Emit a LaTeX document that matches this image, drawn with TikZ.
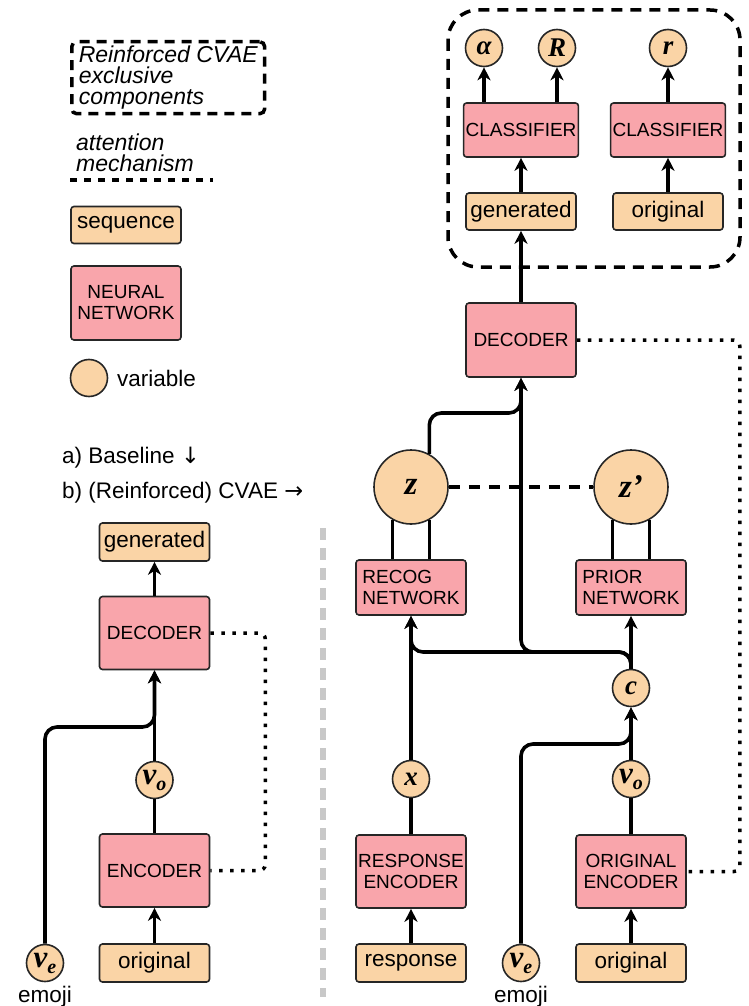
\documentclass[tikz,border=0pt]{standalone}
\usepackage{fontspec}
\setmainfont{Liberation Sans}
\newfontfamily\varfont{Liberation Serif}
\newfontfamily\arrowfont{DejaVu Sans}
\usetikzlibrary{positioning}
\usetikzlibrary{arrows.meta}
\definecolor{seqfill}{RGB}{250,212,166}
\definecolor{netfill}{RGB}{249,165,171}
\definecolor{sepgray}{RGB}{200,200,200}
\newcommand{\varsub}[2]{{\fontsize{31}{31}\selectfont #1}\raisebox{-0.22em}{\fontsize{20}{20}\selectfont #2}}

\begin{document}
\begin{tikzpicture}[x = 1pt, y = -1pt,
seq/.style = {shape = rectangle, rounded corners = 3pt, draw = black!85, fill = seqfill, line width = 1.6pt, minimum width = 110pt, minimum height = 37pt, inner sep = 1pt, font = \fontsize{22.5}{24}\selectfont},
net/.style = {shape = rectangle, rounded corners = 3pt, draw = black!85, fill = netfill, line width = 1.6pt, minimum width = 110pt, minimum height = 73pt, inner sep = 2pt, align = center, font = \fontsize{19}{21}\selectfont},
var/.style = {shape = circle, draw = black!85, fill = seqfill, line width = 1.6pt, minimum size = 37pt, inner sep = 0pt, font = \varfont\bfseries\itshape\fontsize{27}{27}\selectfont},
bigvar/.style = {var, minimum size = 74pt, font = \varfont\bfseries\itshape\fontsize{33}{33}\selectfont},
conn/.style = {line width = 3.6pt, -{Stealth[length = 13pt, width = 13pt, inset = 4pt]}},
wire/.style = {line width = 3.6pt},
attn/.style = {line width = 3.5pt, dash pattern = on 3.5pt off 7.5pt, rounded corners = 6pt},
attnleg/.style = {line width = 3.5pt, dash pattern = on 7pt off 7pt},
excl/.style = {line width = 3.5pt, dash pattern = on 11pt off 8pt},
txt/.style = {inner sep = 0pt, font = \fontsize{22.5}{22}\selectfont},
sep/.style = {line width = 6pt, draw = sepgray, dash pattern = on 12pt off 8pt}
]
\useasboundingbox (0, 0) rectangle (748, 1006);

\node[excl, draw, rounded corners = 5pt, dash pattern = on 10pt off 7pt, anchor = north west, align = left, inner xsep = 7pt, minimum height = 72pt, font = \itshape\fontsize{23}{21}\selectfont] (Excl) at (70, 40) {Reinforced CVAE\\exclusive\\components};
\node[txt, anchor = west, align = left, font = \itshape\fontsize{23}{21}\selectfont] (AttnTxt) at (76, 153) {attention\\mechanism};
\coordinate (L1) at (70, 180);
\coordinate (L2) at (213, 180);
\draw[attnleg] (L1) -- (L2);
\node[seq] (SeqLeg) at (126, 225) {sequence};
\node[net, minimum height = 74pt] (NetLeg) at (126, 303) {NEURAL\\NETWORK};
\node[var] (VarLeg) at (89, 378) {};
\node[txt, anchor = west] (VarTxt) at (117, 378) {variable};
\node[txt, anchor = west] (BaseTxt) at (62, 458) {a) Baseline {\arrowfont ↓}};
\node[txt, anchor = west] (CvaeTxt) at (62, 493) {b) (Reinforced) CVAE {\arrowfont →}};

\node[seq, minimum height = 38pt] (Gen) at (154.5, 542) {generated};
\node[net] (Dec) at (154.5, 633) {DECODER};
\node[var] (Vo) at (154.5, 780) {\varsub{v}{o}};
\node[net] (Enc) at (154.5, 870.5) {ENCODER};
\node[seq, minimum height = 38pt] (Orig) at (154.5, 963) {original};
\node[var, label = {[txt, label distance = 4pt]below:emoji}] (Ve) at (45, 963) {\varsub{v}{e}};
\coordinate (B1) at (154.5, 727);

\path[conn] (Orig) edge (Enc);
\path[wire] (Enc) edge (Vo);
\path[conn] (Vo) edge (Dec);
\draw[conn, rounded corners = 12pt] (Ve.north) |- (B1) -- (Dec.south);
\path[conn] (Dec) edge (Gen);
\draw[attn] (Dec.east) -- ++(55, 0) |- (Enc.east);

\coordinate (S1) at (323, 528);
\coordinate (S2) at (323, 997);
\draw[sep] (S1) -- (S2);

\draw[excl, rounded corners = 30pt] (448, 10) rectangle (740, 267);
\node[var] (Al) at (484, 48) {α};
\node[var] (Rv) at (557, 48) {R};
\node[var] (Rs) at (668, 48) {r};
\node[net, minimum height = 54pt] (ClsL) at (521, 130) {CLASSIFIER};
\node[net, minimum height = 54pt] (ClsR) at (668, 130) {CLASSIFIER};
\node[seq] (GenT) at (521, 211.5) {generated};
\node[seq] (OrigT) at (668, 211.5) {original};

\path[conn] (ClsL.north -| Al) edge (Al);
\path[conn] (ClsL.north -| Rv) edge (Rv);
\path[conn] (ClsR) edge (Rs);
\path[conn] (GenT) edge (ClsL);
\path[conn] (OrigT) edge (ClsR);

\node[net, minimum height = 74pt] (DecR) at (521, 340) {DECODER};
\node[bigvar] (Z) at (411, 487) {z};
\node[bigvar] (Zp) at (631, 487) {z’};
\node[net, minimum height = 55pt, align = left] (Recog) at (411, 587.5) {RECOG\\NETWORK};
\node[net, minimum height = 55pt, align = left] (Prior) at (631, 587.5) {PRIOR\\NETWORK};
\node[var] (C) at (631, 688) {c};
\node[var] (X) at (411, 779) {x};
\node[var] (VoR) at (631, 779) {\varsub{v}{o}};
\node[net] (REnc) at (411, 871.5) {RESPONSE\\ENCODER};
\node[net] (OEnc) at (631, 871.5) {ORIGINAL\\ENCODER};
\node[seq, minimum height = 38pt] (Resp) at (411, 963) {response};
\node[seq, minimum height = 38pt] (OrigR) at (631, 963) {original};
\node[var, label = {[txt, label distance = 4pt]below:emoji}] (VeR) at (521, 963) {\varsub{v}{e}};
\coordinate (J1) at (411, 652);
\coordinate (J2) at (521, 652);
\coordinate (K1) at (521, 413);
\coordinate (K2) at (631, 744);

\path[conn] (DecR) edge (GenT);
\draw[conn, rounded corners = 12pt] (Z.61) |- (K1) -- (DecR.south);
\draw[conn, rounded corners = 12pt] (C.north) |- (J2) -- (DecR.south);
\draw[conn, rounded corners = 12pt] (C.north) |- (J1) -- (Recog.south);
\path[conn] (C) edge (Prior);
\path[conn] (X) edge (Recog);
\draw[excl, dash pattern = on 11pt off 9pt] (Z.east) -- (Zp.west);
\draw[wire] (Z.241) -- (Z.241 |- Recog.north);
\draw[wire] (Z.299) -- (Z.299 |- Recog.north);
\draw[wire] (Zp.241) -- (Zp.241 |- Prior.north);
\draw[wire] (Zp.299) -- (Zp.299 |- Prior.north);
\path[wire] (REnc) edge (X);
\path[wire] (OEnc) edge (VoR);
\path[conn] (Resp) edge (REnc);
\path[conn] (OrigR) edge (OEnc);
\path[conn] (VoR) edge (C);
\draw[conn, rounded corners = 12pt] (VeR.north) |- (K2) -- (C.south);
\draw[attn] (DecR.east) -- ++(163, 0) |- (OEnc.east);
\end{tikzpicture}
\end{document}
